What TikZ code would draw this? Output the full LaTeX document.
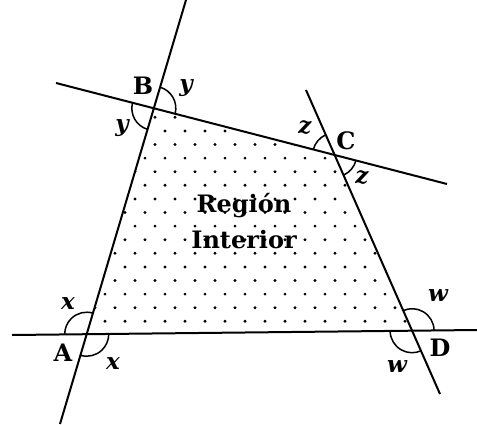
\documentclass[tikz,border=0pt]{standalone}
\usepackage{fontspec}
\setmainfont{DejaVu Serif}
\usetikzlibrary{angles}
\tikzset{
  sideline/.style={line width=1pt},
  anglearc/.style={draw, line width=0.75pt, angle radius=11pt},
  vertex/.style={font=\bfseries\fontsize{12}{14}\selectfont, inner sep=1pt},
  anglabel/.style={font=\bfseries\itshape\fontsize{11.5}{13}\selectfont, inner sep=1pt},
  regiontext/.style={font=\bfseries\fontsize{12}{18}\selectfont, align=center, inner sep=1pt}
}
\begin{document}
\begin{tikzpicture}[x=0.5pt, y=-0.5pt]
\useasboundingbox (0,0) rectangle (477,424);
% ends of the four lines
\coordinate (L1a) at (186,0);   \coordinate (L1b) at (60,424);
\coordinate (L2a) at (56,83);   \coordinate (L2b) at (447,184);
\coordinate (L3a) at (306,90);  \coordinate (L3b) at (440,394);
\coordinate (L4a) at (12,335);  \coordinate (L4b) at (477,330);
% vertices
\coordinate (A) at (intersection of L1a--L1b and L4a--L4b);
\coordinate (B) at (intersection of L1a--L1b and L2a--L2b);
\coordinate (C) at (intersection of L2a--L2b and L3a--L3b);
\coordinate (D) at (intersection of L3a--L3b and L4a--L4b);

% dotted interior
\begin{scope}
  \clip (A) -- (B) -- (C) -- (D) -- cycle;
  \foreach \j in {0,...,17}{
    \pgfmathsetmacro{\yy}{103.7+13.6*\j}
    \pgfmathsetmacro{\xo}{5+10*mod(\j,2)}
    \foreach \i in {0,...,22}
      \fill (\xo+20*\i,\yy) circle (0.8pt);
  }
\end{scope}

% lines
\draw[sideline] (L1a) -- (L1b);
\draw[sideline] (L2a) -- (L2b);
\draw[sideline] (L3a) -- (L3b);
\draw[sideline] (L4a) -- (L4b);

% angle arcs
\pic[anglearc] {angle = C--B--L1a};
\pic[anglearc] {angle = L2a--B--A};
\pic[anglearc] {angle = L3a--C--B};
\pic[anglearc] {angle = D--C--L2b};
\pic[anglearc] {angle = B--A--L4a};
\pic[anglearc] {angle = L1b--A--D};
\pic[anglearc] {angle = L4b--D--C};
\pic[anglearc] {angle = A--D--L3b};

% vertex names
\node[vertex] (labB) at (143,86) {B};
\node[vertex] (labC) at (346,141) {C};
\node[vertex] (labA) at (63,353) {A};
\node[vertex] (labD) at (440,348) {D};

% angle names
\node[anglabel] (yB1) at (186,88) {y};
\node[anglabel] (yB2) at (122,128) {y};
\node[anglabel] (zC1) at (305,128) {z};
\node[anglabel] (zC2) at (362,178) {z};
\node[anglabel] (xA1) at (68,304) {x};
\node[anglabel] (xA2) at (113,364) {x};
\node[anglabel] (wD1) at (438,296) {w};
\node[anglabel] (wD2) at (397,367) {w};

\node[regiontext] (region) at (244,221) {Regi\'on\\Interior};
\end{tikzpicture}
\end{document}
